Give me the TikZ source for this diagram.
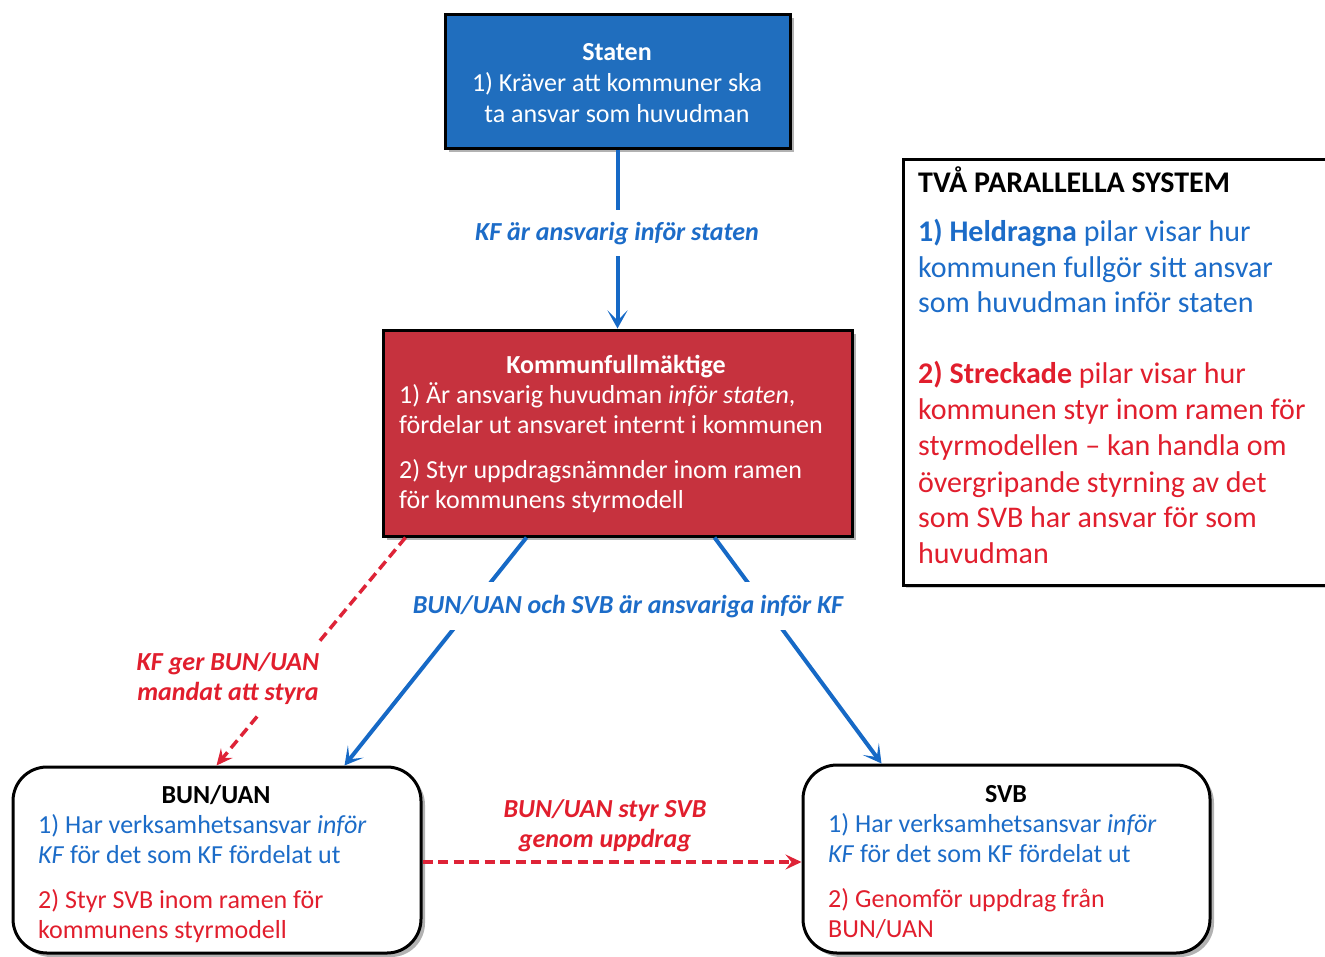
\documentclass[tikz,border=0pt]{standalone}
\usepackage{fontspec}
\setmainfont{Carlito}
\usetikzlibrary{arrows.meta,shadows}
\definecolor{stateblue}{RGB}{32,110,190}
\definecolor{kfred}{RGB}{198,50,62}
\definecolor{tblue}{RGB}{28,108,200}
\definecolor{tred}{RGB}{225,30,45}
\definecolor{lblue}{RGB}{22,105,198}
\definecolor{lred}{RGB}{222,35,55}
\begin{document}
\begin{tikzpicture}[x=1pt,y=-1pt,
  shd/.style={drop shadow={shadow xshift=4pt,shadow yshift=-4pt,opacity=0.3,fill=black}},
  sqbox/.style={draw=black,line width=3pt,shd,inner sep=0pt},
  rbox/.style={draw=black,line width=3pt,fill=white,rounded corners=34pt,shd,inner sep=0pt},
  ttl/.style={font=\fontsize{26}{30}\selectfont\bfseries,inner sep=0pt,anchor=base},
  ctxt/.style={font=\fontsize{26}{30}\selectfont,inner sep=0pt,anchor=base},
  txt/.style={font=\fontsize{26}{30}\selectfont,inner sep=0pt,anchor=base west},
  lgd/.style={font=\fontsize{30}{36}\selectfont,inner sep=0pt,anchor=base west},
  lbl/.style={font=\fontsize{26}{30}\selectfont\bfseries\itshape},
  bline/.style={draw=lblue,line width=4pt,-{Stealth[length=18pt,width=20pt,inset=10pt]}},
  rline/.style={draw=lred,line width=3.5pt,dash pattern=on 10pt off 5.5pt,-{Stealth[length=16pt,width=15pt,inset=6pt]}}
]
\useasboundingbox (0,0) rectangle (1325,956);
\clip (0,0) rectangle (1325,956);

% boxes
\node[sqbox,fill=stateblue,minimum width=345pt,minimum height=134pt] (staten) at (617.5,81) {};
\node[sqbox,fill=kfred,minimum width=469pt,minimum height=206pt] (kf) at (617.5,433) {};
\node[rbox,minimum width=408pt,minimum height=186pt] (bun) at (217,860) {};
\node[rbox,minimum width=407pt,minimum height=188pt] (svb) at (1006.5,859) {};
\node[draw=black,line width=2.5pt,fill=white,minimum width=440pt,minimum height=426pt,anchor=north west,
      drop shadow={shadow xshift=3pt,shadow yshift=-3pt,opacity=0.2,fill=black}] (legend) at (902,158) {};

% Staten text
\node[ttl,text=white] (st0) at (617,60) {Staten};
\node[ctxt,text=white] (st1) at (617,91) {1) Kräver att kommuner ska};
\node[ctxt,text=white] (st2) at (617,122) {ta ansvar som huvudman};

% KF text
\node[ttl,text=white] (kf0) at (616,373) {Kommunfullmäktige};
\node[txt,text=white] (kf1) at (399,403) {1) Är ansvarig huvudman \textit{inför staten},};
\node[txt,text=white] (kf2) at (399,433) {fördelar ut ansvaret internt i kommunen};
\node[txt,text=white] (kf3) at (399,478) {2) Styr uppdragsnämnder inom ramen};
\node[txt,text=white] (kf4) at (399,508) {för kommunens styrmodell};

% BUN/UAN text
\node[ttl,text=black] (bu0) at (216,803) {BUN/UAN};
\node[txt,text=tblue] (bu1) at (38,833) {1) Har verksamhetsansvar \textit{inför}};
\node[txt,text=tblue] (bu2) at (38,863) {\textit{KF} för det som KF fördelat ut};
\node[txt,text=tred] (bu3) at (38,908) {2) Styr SVB inom ramen för};
\node[txt,text=tred] (bu4) at (38,938) {kommunens styrmodell};

% SVB text
\node[ttl,text=black] (sv0) at (1006,802) {SVB};
\node[txt,text=tblue] (sv1) at (828,832) {1) Har verksamhetsansvar \textit{inför}};
\node[txt,text=tblue] (sv2) at (828,862) {\textit{KF} för det som KF fördelat ut};
\node[txt,text=tred] (sv3) at (828,907) {2) Genomför uppdrag från};
\node[txt,text=tred] (sv4) at (828,937) {BUN/UAN};

% legend text
\node[lgd,font=\fontsize{30}{36}\selectfont\bfseries,text=black] (lg0) at (918,192) {TVÅ PARALLELLA SYSTEM};
\node[lgd,text=tblue] (lg1) at (918,241) {\textbf{1) Heldragna} pilar visar hur};
\node[lgd,text=tblue] (lg2) at (918,277) {kommunen fullgör sitt ansvar};
\node[lgd,text=tblue] (lg3) at (918,312) {som huvudman inför staten};
\node[lgd,text=tred] (lg4) at (918,383) {\textbf{2) Streckade} pilar visar hur};
\node[lgd,text=tred] (lg5) at (918,419) {kommunen styr inom ramen för};
\node[lgd,text=tred] (lg6) at (918,455) {styrmodellen – kan handla om};
\node[lgd,text=tred] (lg7) at (918,492) {övergripande styrning av det};
\node[lgd,text=tred] (lg8) at (918,527) {som SVB har ansvar för som};
\node[lgd,text=tred] (lg9) at (918,563) {huvudman};

% connectors
\draw[bline] (staten.south) -- (kf.north);
\draw[bline] ([xshift=145pt]kf.south west) -- ([xshift=333pt]bun.north west);
\draw[bline] ([xshift=333pt]kf.south west) -- ([xshift=80pt]svb.north west);
\draw[rline] ([xshift=24pt]kf.south west) -- ([xshift=205pt]bun.north west);
\draw[rline] ([yshift=-2pt]bun.east) -- ([yshift=-3pt]svb.west);

% connector labels
\node[lbl,text=tblue,fill=white,inner xsep=3pt,inner ysep=12pt,anchor=base] (l1) at (617,240) {KF är ansvarig inför staten};
\node[lbl,text=tblue,fill=white,inner xsep=3pt,inner ysep=13pt,anchor=base] (l2) at (628,613) {BUN/UAN och SVB är ansvariga inför KF};
\node[lbl,text=tred,fill=white,align=center,inner xsep=6pt,inner ysep=10pt] (l3) at (228,679) {KF ger BUN/UAN\\mandat att styra};
\node[lbl,text=tred,align=center,inner sep=0pt] (l4) at (605,826) {BUN/UAN styr SVB\\genom uppdrag};
\end{tikzpicture}
\end{document}
